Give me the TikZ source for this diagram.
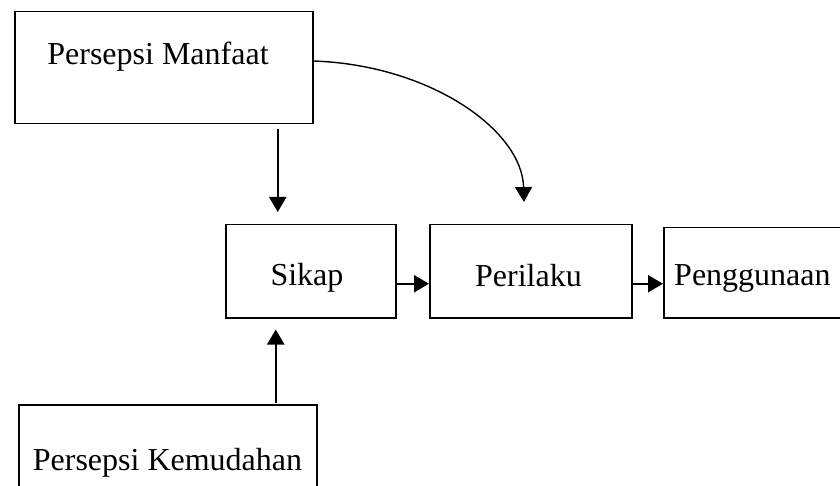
\documentclass[tikz,border=0pt]{standalone}
\usepackage{fontspec}
\setmainfont{Liberation Serif}
\usetikzlibrary{arrows.meta,calc}
\begin{document}
\begin{tikzpicture}[x=1pt,y=1pt,
  box/.style={draw=black, line width=1.5pt, rectangle, inner sep=0pt, anchor=north west},
  lbl/.style={font=\fontsize{32}{36}\selectfont, anchor=base, inner sep=0pt},
  arr/.style={line width=2.2pt, -{Triangle[length=15pt,width=17pt]}},
  curvearr/.style={line width=1.4pt, -{Triangle[length=15pt,width=17pt]}}]
\useasboundingbox (0,0) rectangle (840,-486);
% boxes
\node[box, minimum width=298, minimum height=112] (pm) at (14,-11) {};
\node[box, minimum width=170, minimum height=93] (sk) at (225,-224) {};
\node[box, minimum width=202, minimum height=93] (pr) at (429,-224) {};
\node[box, minimum width=200, minimum height=90] (pg) at (663,-227) {};
\node[box, minimum width=298, minimum height=100] (pk) at (18,-404) {};
% labels
\node[lbl] (tpm) at (158,-65) {Persepsi Manfaat};
\node[lbl] (tsk) at (307,-285) {Sikap};
\node[lbl] (tpr) at (528.5,-286) {Perilaku};
\node[lbl, anchor=base west] (tpg) at (674,-285) {Penggunaan};
\node[lbl] (tpk) at (167.5,-470) {Persepsi Kemudahan};
% connectors
\coordinate (cs) at ($(pm.north east)+(0,-50)$);
\coordinate (ce) at ($(pr.north west)+(95,22)$);
\draw[curvearr] (cs) .. controls (430,-65) and (522,-130) .. (ce);
\draw[arr] ($(pm.south)+(114,-5)$) -- ($(sk.north)+(-33,12)$);
\draw[arr] ($(pk.north -| sk.south)+(-35,1)$) -- ($(sk.south)+(-35,-11)$);
\draw[arr] ([yshift=-12.5pt]sk.east) -- ([yshift=-12.5pt]pr.west);
\draw[arr] ([yshift=-12.5pt]pr.east) -- ([yshift=-12.5pt]pr.east -| pg.west);
\end{tikzpicture}
\end{document}
